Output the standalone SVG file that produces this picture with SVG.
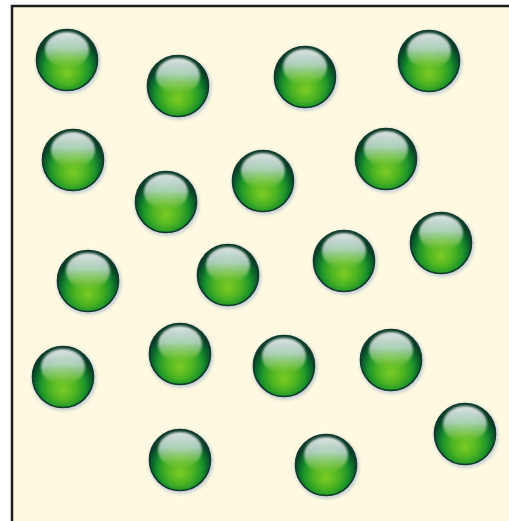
<svg xmlns="http://www.w3.org/2000/svg" xmlns:xlink="http://www.w3.org/1999/xlink" width="509" height="521" viewBox="0 0 509 521">
<style>
.frame{stroke:#1c1c1c;stroke-width:2.5;fill:none}
</style>
<defs>
<radialGradient id="body" cx="0.5" cy="0.62" r="0.53" fx="0.5" fy="0.72">
 <stop offset="0" stop-color="#7ccc24"/>
 <stop offset="0.42" stop-color="#4ab222"/>
 <stop offset="0.68" stop-color="#1e962a"/>
 <stop offset="0.84" stop-color="#0c6c2c"/>
 <stop offset="1" stop-color="#0a3d26"/>
</radialGradient>
<linearGradient id="hl" x1="0" y1="0" x2="0" y2="1">
 <stop offset="0" stop-color="#e8eeee" stop-opacity="0.95"/>
 <stop offset="0.45" stop-color="#cfe2da" stop-opacity="0.8"/>
 <stop offset="0.75" stop-color="#b6dc80" stop-opacity="0.5"/>
 <stop offset="1" stop-color="#9cd050" stop-opacity="0"/>
</linearGradient>
<filter id="blur" x="-20%" y="-20%" width="140%" height="140%"><feGaussianBlur stdDeviation="1.6"/></filter>
<filter id="soft" x="-20%" y="-20%" width="140%" height="140%"><feGaussianBlur stdDeviation="1.2"/></filter>
<g id="ball">
 <circle cx="1" cy="1.5" r="32.5" fill="#c8d2d6" filter="url(#blur)"/>
 <circle r="30.5" fill="url(#body)" stroke="#123a2a" stroke-width="1.6"/>
 <ellipse cx="0" cy="-10" rx="22" ry="18" fill="url(#hl)" filter="url(#soft)"/>
</g>
</defs>
<rect width="509" height="521" fill="#ffffff"/>
<rect x="12" y="6" width="497" height="515" fill="#fef9e0"/>
<path class="frame" d="M12 521 V6 H509"/>
<g id="spheres">
 <g id="s1"><use xlink:href="#ball" x="67" y="60"/></g>
 <g id="s2"><use xlink:href="#ball" x="178" y="86"/></g>
 <g id="s3"><use xlink:href="#ball" x="305" y="77"/></g>
 <g id="s4"><use xlink:href="#ball" x="429" y="61"/></g>
 <g id="s5"><use xlink:href="#ball" x="73" y="160"/></g>
 <g id="s6"><use xlink:href="#ball" x="166" y="202"/></g>
 <g id="s7"><use xlink:href="#ball" x="263" y="181"/></g>
 <g id="s8"><use xlink:href="#ball" x="386" y="159"/></g>
 <g id="s9"><use xlink:href="#ball" x="88" y="281"/></g>
 <g id="s10"><use xlink:href="#ball" x="228" y="275"/></g>
 <g id="s11"><use xlink:href="#ball" x="344" y="261"/></g>
 <g id="s12"><use xlink:href="#ball" x="441" y="243"/></g>
 <g id="s13"><use xlink:href="#ball" x="63" y="377"/></g>
 <g id="s14"><use xlink:href="#ball" x="180" y="354"/></g>
 <g id="s15"><use xlink:href="#ball" x="284" y="366"/></g>
 <g id="s16"><use xlink:href="#ball" x="391" y="360"/></g>
 <g id="s17"><use xlink:href="#ball" x="180" y="460"/></g>
 <g id="s18"><use xlink:href="#ball" x="326" y="465"/></g>
 <g id="s19"><use xlink:href="#ball" x="465" y="434"/></g>
</g>
</svg>
